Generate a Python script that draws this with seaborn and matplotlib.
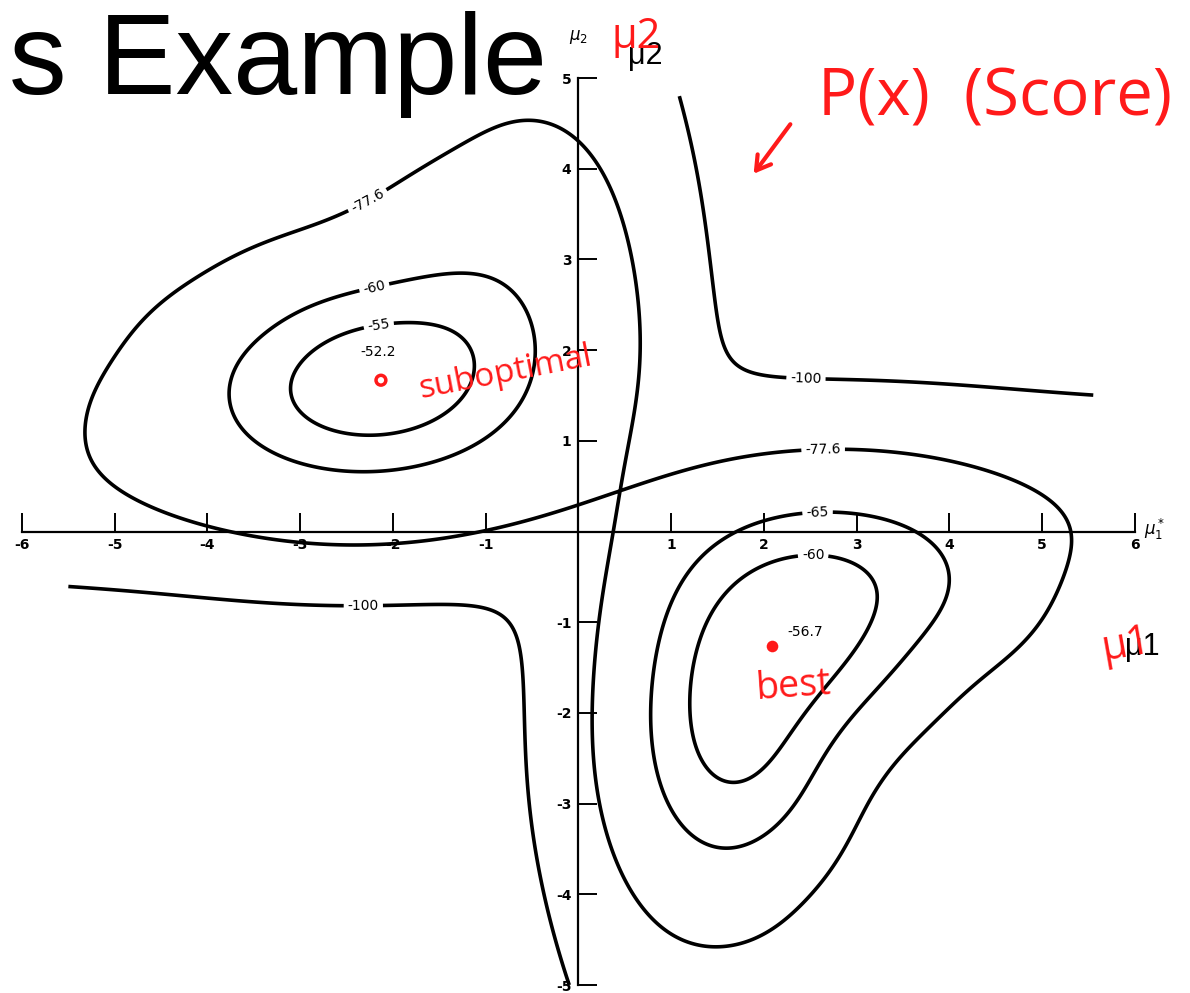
import numpy as np
import matplotlib
matplotlib.use("Agg")
import matplotlib.pyplot as plt
from matplotlib.ticker import FixedLocator, MultipleLocator
import seaborn as sns

# 25 one-dimensional samples and the mixture priors P(w1), P(w2)
samples = [0.608, -1.590, 0.235, 3.949, -2.249, 2.704, -2.473, 0.672, 0.262, 1.072,
           -1.773, 0.537, 3.240, 2.400, -2.499, 2.608, -3.458, 0.257, 2.569, 1.415,
           1.410, -2.653, 1.396, 3.286, -0.712]
priors = [1 / 3, 2 / 3]

# contour levels of the log-likelihood (the saddle level is computed below)
levels_inner = [-60, -55]
level_lower = -65          # drawn around the lower-right maximum
level_outer = -100         # drawn in the upper-right and lower-left quadrants

# where each contour gets its value written
spots_saddle = [(-2.34, 3.77), (2.64, 0.80)]
spots_inner = [(-2.21, 2.73), (2.53, -0.30), (-2.16, 2.32)]
spots_lower = [(2.58, 0.15)]
spots_outer = [(2.45, 1.61), (-2.32, -0.78)]

# the two local maxima (mu1, mu2) and their log-likelihood values
peak_mu1 = [-2.130, 2.085]
peak_mu2 = [1.668, -1.257]
peak_vals = ["-52.2", "-56.7"]
peak_notes = ["suboptimal", "best"]

x_ticks = [-6, -5, -4, -3, -2, -1, 1, 2, 3, 4, 5, 6]
y_ticks = [-5, -4, -3, -2, -1, 1, 2, 3, 4, 5]

sns.set_theme(style="white")
plt.rcParams["axes.unicode_minus"] = False
plt.rcParams["font.family"] = ["DejaVu Sans"]

W, H = 1190, 993
fig = plt.figure(figsize=(W / 100, H / 100), dpi=100)
ax = fig.add_axes([0, 0, 1, 1])
ax.set_xlim(-6.237, 6.593)
ax.set_ylim(-5.088, 5.86)
ax.set_facecolor("white")

# log-likelihood l(mu1, mu2) = sum_k ln[P(w1) N(x_k; mu1, 1) + P(w2) N(x_k; mu2, 1)]
xs = np.asarray(samples)
phi = lambda d: np.exp(-0.5 * d ** 2) / np.sqrt(2 * np.pi)


def loglik(m1, m2):
    xk = xs.reshape((-1,) + (1,) * np.ndim(m1))
    return np.log(priors[0] * phi(xk - m1) + priors[1] * phi(xk - m2)).sum(axis=0)


g1 = np.linspace(-5.5, 5.55, 700)
g2 = np.linspace(-5.0, 4.8, 620)
M1, M2 = np.meshgrid(g1, g2)
L = loglik(M1, M2)

# the saddle sits at mu1 = mu2 = sample mean
level_saddle = float(loglik(np.float64(xs.mean()), np.float64(xs.mean())))

line_kw = dict(colors="black", linewidths=2.6, linestyles="solid")
label_kw = dict(fontsize=10, inline=True, inline_spacing=4, colors="black", fmt="%.0f")

cs_s = ax.contour(M1, M2, L, levels=[level_saddle], **line_kw)
ax.clabel(cs_s, manual=spots_saddle, **{**label_kw, "fmt": "%.1f"})

cs = ax.contour(M1, M2, L, levels=sorted(levels_inner), **line_kw)
ax.clabel(cs, manual=spots_inner, **label_kw)

L_lower = np.ma.masked_where(M2 > M1, L)
cs65 = ax.contour(M1, M2, L_lower, levels=[level_lower], **line_kw)
ax.clabel(cs65, manual=spots_lower, **label_kw)

L_outer = np.ma.masked_where(M1 * M2 < 0, L)
cs100 = ax.contour(M1, M2, L_outer, levels=[level_outer], **line_kw)
ax.clabel(cs100, manual=spots_outer, **label_kw)

peak_label_offsets = [(-0.03, 0.31), (0.36, 0.15)]
for m1, m2, v, (dx, dy) in zip(peak_mu1, peak_mu2, peak_vals, peak_label_offsets):
    ax.text(m1 + dx, m2 + dy, v, fontsize=10, color="black", ha="center", va="center")

# axes crossing at the origin
for side in ("top", "right"):
    ax.spines[side].set_visible(False)
ax.spines["left"].set_position("zero")
ax.spines["bottom"].set_position("zero")
ax.spines["bottom"].set_bounds(-6, 6)
ax.spines["left"].set_bounds(-5, 5)
for side in ("left", "bottom"):
    ax.spines[side].set_color("black")
    ax.spines[side].set_linewidth(1.6)
ax.xaxis.set_major_locator(FixedLocator(x_ticks))
ax.yaxis.set_major_locator(FixedLocator(y_ticks))
ax.set_xticklabels([str(t) for t in x_ticks])
ax.set_yticklabels([str(t) for t in y_ticks])
ax.xaxis.set_minor_locator(MultipleLocator(0.2))
ax.yaxis.set_minor_locator(MultipleLocator(0.2))
ax.tick_params(which="major", direction="in", length=14, width=1.4, colors="black",
               labelsize=10, pad=5)
ax.tick_params(which="minor", direction="inout", length=4, width=0.9, colors="black")
ax.tick_params(bottom=True, left=True)
for lab in ax.get_xticklabels() + ax.get_yticklabels():
    lab.set_fontweight("bold")
ax.text(6.1, 0.02, "$\\mu_1^*$", fontsize=12, color="black", ha="left", va="center")
ax.text(0.0, 5.45, "$\\mu_2$", fontsize=12, color="black", ha="center", va="center")

# slide heading and typed axis names
fig.text(547 / W, 1 - 94 / H, "s Example", fontsize=83, family="Liberation Sans",
         color="black", ha="right", va="baseline")
fig.text(628 / W, 1 - 64 / H, "\u03bc2", fontsize=22, family="Liberation Sans",
         color="black", ha="left", va="baseline")
fig.text(1125 / W, 1 - 655 / H, "\u03bc1", fontsize=22, family="Liberation Sans",
         color="black", ha="left", va="baseline")

# red pen notes
red = "#ff1a1a"
pen = dict(color=red, family="Open Sans")
sns.scatterplot(x=[peak_mu1[0]], y=[peak_mu2[0]], ax=ax, s=50, marker="o",
                facecolor="none", edgecolor=red, linewidth=2.5, zorder=5)
sns.scatterplot(x=[peak_mu1[1]], y=[peak_mu2[1]], ax=ax, s=70, marker="o",
                color=red, linewidth=0, zorder=5)
ax.text(peak_mu1[0] + 0.38, peak_mu2[0] + 0.08, peak_notes[0], fontsize=24,
        rotation=11, ha="left", va="center", **pen)
ax.text(peak_mu1[1] - 0.18, peak_mu2[1] - 0.45, peak_notes[1], fontsize=27,
        rotation=4, ha="left", va="center", **pen)
fig.text(818 / W, 1 - 116 / H, "P(x)  (Score)", fontsize=47, ha="left",
         va="baseline", **pen)
fig.text(612 / W, 1 - 48 / H, "\u03bc2", fontsize=30, ha="left", va="baseline", **pen)
fig.text(1098 / W, 1 - 660 / H, "\u03bc1", fontsize=30, ha="left", va="baseline",
         rotation=10, **pen)
fig.add_artist(matplotlib.patches.FancyArrowPatch(
    (792 / W, 1 - 122 / H), (752 / W, 1 - 176 / H), transform=fig.transFigure,
    arrowstyle="->,head_length=10,head_width=6", color=red, linewidth=3))

fig.savefig("out.png", dpi=100)
